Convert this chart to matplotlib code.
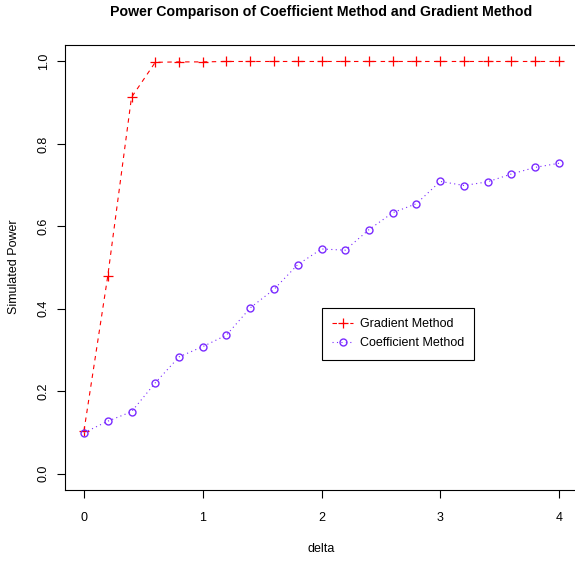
import numpy as np
import matplotlib
matplotlib.use("Agg")
import matplotlib.pyplot as plt

plt.rcParams['font.family'] = ['Liberation Sans', 'DejaVu Sans']

# delta values 0, 0.2, ..., 4
delta = [0.0, 0.2, 0.4, 0.6, 0.8, 1.0, 1.2, 1.4, 1.6, 1.8, 2.0,
         2.2, 2.4, 2.6, 2.8, 3.0, 3.2, 3.4, 3.6, 3.8, 4.0]
gradient_power = [0.104, 0.479, 0.913, 0.998, 0.999, 0.999, 1.0, 1.0, 1.0, 1.0, 1.0,
                  1.0, 1.0, 1.0, 1.0, 1.0, 1.0, 1.0, 1.0, 1.0, 1.0]
coef_power = [0.099, 0.127, 0.150, 0.220, 0.283, 0.308, 0.336, 0.402, 0.447, 0.507, 0.545,
              0.542, 0.592, 0.633, 0.655, 0.709, 0.699, 0.708, 0.727, 0.743, 0.753]

x_ticks = [0, 1, 2, 3, 4]
y_ticks = [0.0, 0.2, 0.4, 0.6, 0.8, 1.0]

fig = plt.figure(figsize=(5.75, 5.63), dpi=100)
# axes box: x 65..578 px, y 45..490 px
ax = fig.add_axes([65 / 575, (563 - 490) / 563, 513 / 575, 445 / 563])

red = "#FF0000"
purple = "#7A2BFF"

ax.plot(delta, gradient_power, color=red, lw=0.8, linestyle=(0, (4, 4)),
        marker="+", markersize=7, markeredgewidth=0.9, label="Gradient Method")
ax.plot(delta, coef_power, color=purple, lw=0.8, linestyle=(0, (1, 3)),
        marker="o", markersize=5, markerfacecolor="none", markeredgecolor=purple,
        markeredgewidth=1.0, label="Coefficient Method")

ax.set_xlim(-0.16, 4.16)
ax.set_ylim(-0.04, 1.04)
ax.set_xticks(x_ticks)
ax.set_xticklabels([str(t) for t in x_ticks])
ax.set_yticks(y_ticks)
ax.set_yticklabels(["%.1f" % t for t in y_ticks], rotation=90, va="center")
ax.tick_params(direction="out", length=6, width=0.8, labelsize=9, pad=10)
ax.tick_params(axis="y", pad=5)
for s in ax.spines.values():
    s.set_linewidth(0.8)

fig.text(321.5 / 575, 1 - 12 / 563, "Power Comparison of Coefficient Method and Gradient Method",
         ha="center", va="center", fontsize=10.2, fontweight="bold")
fig.text(321.5 / 575, 1 - 549 / 563, "delta", ha="center", va="center", fontsize=9)
fig.text(14 / 575, 1 - 267 / 563, "Simulated Power", ha="center", va="center",
         rotation=90, fontsize=9)

leg = ax.legend(loc="upper left", bbox_to_anchor=(322 / 575, 1 - 308 / 563),
                bbox_transform=fig.transFigure, fontsize=9, fancybox=False,
                framealpha=1, edgecolor="black", handlelength=1.7, handletextpad=0.55,
                borderpad=0.8, labelspacing=0.6, borderaxespad=0)
leg.get_frame().set_linewidth(0.8)

fig.savefig("out.png", dpi=100)
